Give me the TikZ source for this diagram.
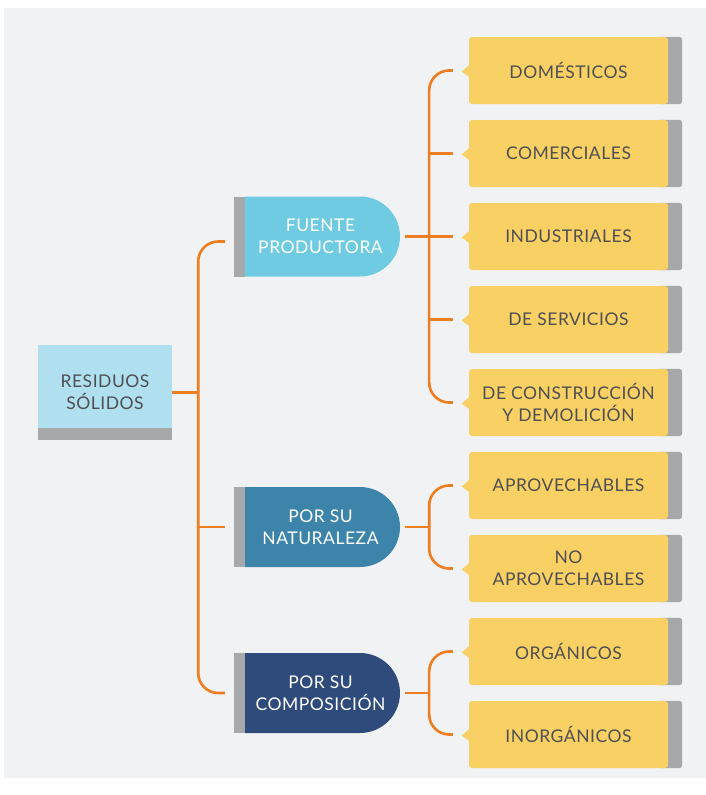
\documentclass[tikz,border=0pt]{standalone}
\usepackage{fontspec}
\setmainfont{Lato}[LetterSpace=3]
\usetikzlibrary{calc,backgrounds,shapes.misc}
\definecolor{panelc}{HTML}{F1F2F3}
\definecolor{yellowc}{HTML}{F9D063}
\definecolor{stripc}{HTML}{A7A8AA}
\definecolor{rootc}{HTML}{B0E0EF}
\definecolor{fuentec}{HTML}{6ECBE2}
\definecolor{natc}{HTML}{3C84AA}
\definecolor{compc}{HTML}{2E4B7C}
\definecolor{orangec}{HTML}{EF7D22}
\definecolor{txtc}{HTML}{4D4F53}
\tikzset{
  txtfont/.style={font=\fontsize{17.5}{22}\selectfont},
  leafbox/.style={rectangle, rounded corners=3pt, fill=yellowc, minimum width=199pt, minimum height=67pt, inner sep=0pt, align=center, text=txtc, txtfont},
  midbox/.style={rounded rectangle, rounded rectangle west arc=none, minimum width=155pt, minimum height=80pt, inner sep=0pt, align=center, text=white, txtfont},
  rootbox/.style={rectangle, fill=rootc, minimum width=134pt, minimum height=95pt, inner sep=0pt, align=center, text=txtc, txtfont},
  conn/.style={draw=orangec, line width=2.6pt},
}
\newcommand{\leafdeco}[1]{%
  \begin{scope}[on background layer]
    \fill[stripc, rounded corners=3pt] ([xshift=-12pt]#1.north east) rectangle ([xshift=14pt]#1.south east);
  \end{scope}
  \fill[yellowc] ($(#1.west)+(1,-6)$) -- ($(#1.west)+(-7,1)$) -- ($(#1.west)+(1,7)$) -- cycle;
}
\begin{document}
\begin{tikzpicture}[x=1pt,y=-1pt]
\useasboundingbox (0,0) rectangle (706,795);
\begin{scope}[on background layer]
  \fill[white] (0,0) rectangle (706,795);
  \fill[panelc] (4,8) rectangle (706,778);
\end{scope}

% root
\node[rootbox] (root) at (105,392.5) {RESIDUOS\\SÓLIDOS};
\fill[stripc] (root.south west) rectangle ([yshift=12pt]root.south east);

% middle nodes
\node[midbox, fill=fuentec] (fuente) at (320.5,236.5) {FUENTE\\PRODUCTORA};
\node[midbox, fill=natc] (nat) at (320.5,527) {POR SU\\NATURALEZA};
\node[midbox, fill=compc] (compo) at (320.5,693) {POR SU\\COMPOSICIÓN};
\foreach \n in {fuente,nat,compo}{
  \fill[stripc] ([xshift=-11pt,yshift=40pt]\n.west) rectangle ([yshift=-40pt]\n.west);
}

% leaves
\node[leafbox] (dom) at (568.5,70.5) {DOMÉSTICOS};
\node[leafbox] (com) at (568.5,153.5) {COMERCIALES};
\node[leafbox] (ind) at (568.5,236.5) {INDUSTRIALES};
\node[leafbox] (ser) at (568.5,319.5) {DE SERVICIOS};
\node[leafbox] (con) at (568.5,402.5) {DE CONSTRUCCIÓN\\Y DEMOLICIÓN};
\node[leafbox] (apr) at (568.5,485.5) {APROVECHABLES};
\node[leafbox] (noa) at (568.5,568.5) {NO\\APROVECHABLES};
\node[leafbox] (org) at (568.5,651.5) {ORGÁNICOS};
\node[leafbox] (ino) at (568.5,734.5) {INORGÁNICOS};
\foreach \n in {dom,com,ind,ser,con,apr,noa,org,ino}{\leafdeco{\n}}

% trunk
\coordinate (tj) at ($(root.east)+(26,0)$);
\draw[conn, rounded corners=20pt] ([xshift=-20pt,yshift=-5pt]fuente.west) -| (tj) |- ([xshift=-20pt]compo.west);
\draw[conn] (root.east) -- (tj);
\draw[conn] (tj |- nat.west) -- ([xshift=-20pt]nat.west);

% fuente bracket
\coordinate (fj) at ($(fuente.east)+(29,0)$);
\draw[conn, rounded corners=20pt] ([xshift=-16pt]dom.west) -| (fj) |- ([xshift=-16pt]con.west);
\draw[conn] ([xshift=5pt]fuente.east) -- ([xshift=-16pt]ind.west);
\draw[conn] (fj |- com.west) -- ([xshift=-16pt]com.west);
\draw[conn] (fj |- ser.west) -- ([xshift=-16pt]ser.west);

% naturaleza bracket
\coordinate (nj) at ($(nat.east)+(29,0)$);
\draw[conn, rounded corners=20pt] ([xshift=-16pt]apr.west) -| (nj) |- ([xshift=-16pt]noa.west);
\draw[conn] ([xshift=5pt]nat.east) -- (nj);

% composicion bracket
\coordinate (cj) at ($(compo.east)+(29,0)$);
\draw[conn, rounded corners=20pt] ([xshift=-16pt]org.west) -| (cj) |- ([xshift=-16pt]ino.west);
\draw[conn] ([xshift=5pt]compo.east) -- (cj);
\end{tikzpicture}
\end{document}
